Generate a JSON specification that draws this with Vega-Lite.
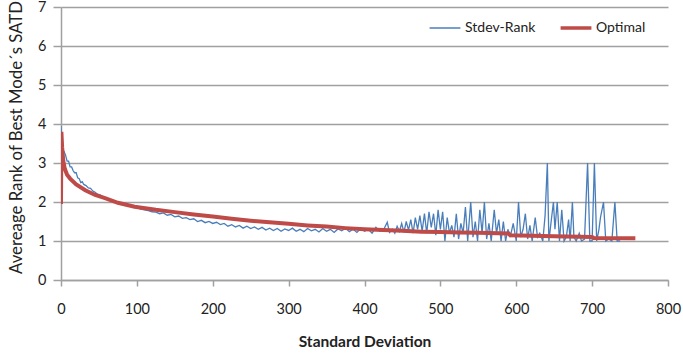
{
  "$schema": "https://vega.github.io/schema/vega-lite/v6.json",
  "width": 607,
  "height": 273,
  "autosize": {"type": "none"},
  "padding": {"left": 61, "top": 7, "right": 15, "bottom": 74},
  "background": "white",
  "config": {
    "view": {"stroke": null},
    "font": "Lato",
    "axis": {"labelFont": "Lato", "titleFont": "Lato", "labelColor": "#222", "titleColor": "#222", "domainColor": "#a0a0a0", "tickColor": "#a0a0a0", "gridColor": "#a0a0a0"}
  },
  "datasets": {
    "pts": [
      {"series":"Stdev-Rank","x":0,"y":3.95},{"series":"Stdev-Rank","x":1,"y":3.6},{"series":"Stdev-Rank","x":2,"y":3.3},{"series":"Stdev-Rank","x":4,"y":3.3},{"series":"Stdev-Rank","x":6,"y":3.2},{"series":"Stdev-Rank","x":8,"y":3.05},{"series":"Stdev-Rank","x":10,"y":3.05},{"series":"Stdev-Rank","x":12,"y":2.9},{"series":"Stdev-Rank","x":14,"y":2.9},{"series":"Stdev-Rank","x":16,"y":2.8},{"series":"Stdev-Rank","x":18,"y":2.75},{"series":"Stdev-Rank","x":20,"y":2.75},{"series":"Stdev-Rank","x":22,"y":2.62},{"series":"Stdev-Rank","x":24,"y":2.6},{"series":"Stdev-Rank","x":26,"y":2.5},{"series":"Stdev-Rank","x":28,"y":2.52},{"series":"Stdev-Rank","x":30,"y":2.45},{"series":"Stdev-Rank","x":33,"y":2.42},{"series":"Stdev-Rank","x":36,"y":2.36},{"series":"Stdev-Rank","x":39,"y":2.35},{"series":"Stdev-Rank","x":42,"y":2.28},{"series":"Stdev-Rank","x":45,"y":2.25},{"series":"Stdev-Rank","x":48,"y":2.2},{"series":"Stdev-Rank","x":52,"y":2.18},{"series":"Stdev-Rank","x":56,"y":2.12},{"series":"Stdev-Rank","x":60,"y":2.1},{"series":"Stdev-Rank","x":64,"y":2.05},{"series":"Stdev-Rank","x":68,"y":2.05},{"series":"Stdev-Rank","x":72,"y":2.0},{"series":"Stdev-Rank","x":76,"y":1.98},{"series":"Stdev-Rank","x":80,"y":1.95},{"series":"Stdev-Rank","x":85,"y":1.96},{"series":"Stdev-Rank","x":90,"y":1.9},{"series":"Stdev-Rank","x":95,"y":1.88},{"series":"Stdev-Rank","x":100,"y":1.86},{"series":"Stdev-Rank","x":105,"y":1.82},{"series":"Stdev-Rank","x":110,"y":1.8},{"series":"Stdev-Rank","x":115,"y":1.78},{"series":"Stdev-Rank","x":120,"y":1.75},{"series":"Stdev-Rank","x":125,"y":1.74},{"series":"Stdev-Rank","x":130,"y":1.7},{"series":"Stdev-Rank","x":135,"y":1.72},{"series":"Stdev-Rank","x":140,"y":1.66},{"series":"Stdev-Rank","x":145,"y":1.68},{"series":"Stdev-Rank","x":150,"y":1.62},{"series":"Stdev-Rank","x":155,"y":1.64},{"series":"Stdev-Rank","x":160,"y":1.58},{"series":"Stdev-Rank","x":165,"y":1.6},{"series":"Stdev-Rank","x":170,"y":1.55},{"series":"Stdev-Rank","x":175,"y":1.57},{"series":"Stdev-Rank","x":180,"y":1.5},{"series":"Stdev-Rank","x":185,"y":1.53},{"series":"Stdev-Rank","x":190,"y":1.47},{"series":"Stdev-Rank","x":195,"y":1.5},{"series":"Stdev-Rank","x":200,"y":1.45},{"series":"Stdev-Rank","x":205,"y":1.48},{"series":"Stdev-Rank","x":210,"y":1.42},{"series":"Stdev-Rank","x":215,"y":1.45},{"series":"Stdev-Rank","x":220,"y":1.38},{"series":"Stdev-Rank","x":225,"y":1.42},{"series":"Stdev-Rank","x":230,"y":1.36},{"series":"Stdev-Rank","x":235,"y":1.4},{"series":"Stdev-Rank","x":240,"y":1.33},{"series":"Stdev-Rank","x":245,"y":1.38},{"series":"Stdev-Rank","x":250,"y":1.32},{"series":"Stdev-Rank","x":255,"y":1.36},{"series":"Stdev-Rank","x":260,"y":1.3},{"series":"Stdev-Rank","x":265,"y":1.35},{"series":"Stdev-Rank","x":270,"y":1.28},{"series":"Stdev-Rank","x":275,"y":1.33},{"series":"Stdev-Rank","x":280,"y":1.27},{"series":"Stdev-Rank","x":285,"y":1.32},{"series":"Stdev-Rank","x":290,"y":1.25},{"series":"Stdev-Rank","x":295,"y":1.31},{"series":"Stdev-Rank","x":300,"y":1.27},{"series":"Stdev-Rank","x":305,"y":1.33},{"series":"Stdev-Rank","x":310,"y":1.25},{"series":"Stdev-Rank","x":315,"y":1.3},{"series":"Stdev-Rank","x":320,"y":1.24},{"series":"Stdev-Rank","x":325,"y":1.32},{"series":"Stdev-Rank","x":330,"y":1.26},{"series":"Stdev-Rank","x":335,"y":1.3},{"series":"Stdev-Rank","x":340,"y":1.23},{"series":"Stdev-Rank","x":345,"y":1.32},{"series":"Stdev-Rank","x":350,"y":1.25},{"series":"Stdev-Rank","x":355,"y":1.3},{"series":"Stdev-Rank","x":360,"y":1.22},{"series":"Stdev-Rank","x":365,"y":1.31},{"series":"Stdev-Rank","x":370,"y":1.26},{"series":"Stdev-Rank","x":375,"y":1.33},{"series":"Stdev-Rank","x":380,"y":1.24},{"series":"Stdev-Rank","x":385,"y":1.3},{"series":"Stdev-Rank","x":390,"y":1.22},{"series":"Stdev-Rank","x":395,"y":1.32},{"series":"Stdev-Rank","x":400,"y":1.25},{"series":"Stdev-Rank","x":405,"y":1.3},{"series":"Stdev-Rank","x":410,"y":1.2},{"series":"Stdev-Rank","x":415,"y":1.35},{"series":"Stdev-Rank","x":420,"y":1.25},{"series":"Stdev-Rank","x":425,"y":1.28},{"series":"Stdev-Rank","x":430,"y":1.48},{"series":"Stdev-Rank","x":433,"y":1.22},{"series":"Stdev-Rank","x":437,"y":1.3},{"series":"Stdev-Rank","x":440,"y":1.2},{"series":"Stdev-Rank","x":443,"y":1.38},{"series":"Stdev-Rank","x":446,"y":1.25},{"series":"Stdev-Rank","x":449,"y":1.45},{"series":"Stdev-Rank","x":452,"y":1.22},{"series":"Stdev-Rank","x":455,"y":1.5},{"series":"Stdev-Rank","x":458,"y":1.28},{"series":"Stdev-Rank","x":461,"y":1.55},{"series":"Stdev-Rank","x":464,"y":1.2},{"series":"Stdev-Rank","x":467,"y":1.6},{"series":"Stdev-Rank","x":470,"y":1.3},{"series":"Stdev-Rank","x":473,"y":1.65},{"series":"Stdev-Rank","x":476,"y":1.25},{"series":"Stdev-Rank","x":479,"y":1.7},{"series":"Stdev-Rank","x":482,"y":1.2},{"series":"Stdev-Rank","x":485,"y":1.75},{"series":"Stdev-Rank","x":488,"y":1.35},{"series":"Stdev-Rank","x":491,"y":1.7},{"series":"Stdev-Rank","x":494,"y":1.15},{"series":"Stdev-Rank","x":497,"y":1.8},{"series":"Stdev-Rank","x":500,"y":1.3},{"series":"Stdev-Rank","x":503,"y":1.75},{"series":"Stdev-Rank","x":506,"y":1.0},{"series":"Stdev-Rank","x":509,"y":1.6},{"series":"Stdev-Rank","x":512,"y":1.2},{"series":"Stdev-Rank","x":515,"y":1.4},{"series":"Stdev-Rank","x":518,"y":1.1},{"series":"Stdev-Rank","x":521,"y":1.7},{"series":"Stdev-Rank","x":524,"y":1.05},{"series":"Stdev-Rank","x":527,"y":1.45},{"series":"Stdev-Rank","x":530,"y":1.2},{"series":"Stdev-Rank","x":533,"y":1.87},{"series":"Stdev-Rank","x":536,"y":1.0},{"series":"Stdev-Rank","x":540,"y":2.0},{"series":"Stdev-Rank","x":543,"y":1.1},{"series":"Stdev-Rank","x":546,"y":1.5},{"series":"Stdev-Rank","x":549,"y":1.0},{"series":"Stdev-Rank","x":552,"y":1.8},{"series":"Stdev-Rank","x":555,"y":1.2},{"series":"Stdev-Rank","x":558,"y":2.0},{"series":"Stdev-Rank","x":561,"y":1.05},{"series":"Stdev-Rank","x":564,"y":1.45},{"series":"Stdev-Rank","x":567,"y":1.0},{"series":"Stdev-Rank","x":571,"y":1.8},{"series":"Stdev-Rank","x":574,"y":1.2},{"series":"Stdev-Rank","x":577,"y":1.55},{"series":"Stdev-Rank","x":580,"y":1.0},{"series":"Stdev-Rank","x":583,"y":1.5},{"series":"Stdev-Rank","x":586,"y":1.0},{"series":"Stdev-Rank","x":589,"y":1.3},{"series":"Stdev-Rank","x":592,"y":1.1},{"series":"Stdev-Rank","x":596,"y":1.45},{"series":"Stdev-Rank","x":600,"y":1.0},{"series":"Stdev-Rank","x":603,"y":2.0},{"series":"Stdev-Rank","x":606,"y":1.1},{"series":"Stdev-Rank","x":609,"y":1.3},{"series":"Stdev-Rank","x":612,"y":1.7},{"series":"Stdev-Rank","x":615,"y":1.05},{"series":"Stdev-Rank","x":618,"y":1.4},{"series":"Stdev-Rank","x":621,"y":1.0},{"series":"Stdev-Rank","x":625,"y":1.6},{"series":"Stdev-Rank","x":628,"y":1.1},{"series":"Stdev-Rank","x":631,"y":1.2},{"series":"Stdev-Rank","x":635,"y":1.0},{"series":"Stdev-Rank","x":638,"y":1.65},{"series":"Stdev-Rank","x":641,"y":3.0},{"series":"Stdev-Rank","x":643,"y":1.0},{"series":"Stdev-Rank","x":646,"y":1.5},{"series":"Stdev-Rank","x":649,"y":2.0},{"series":"Stdev-Rank","x":651,"y":1.3},{"series":"Stdev-Rank","x":654,"y":2.0},{"series":"Stdev-Rank","x":657,"y":1.0},{"series":"Stdev-Rank","x":660,"y":1.8},{"series":"Stdev-Rank","x":663,"y":1.0},{"series":"Stdev-Rank","x":666,"y":1.1},{"series":"Stdev-Rank","x":669,"y":1.55},{"series":"Stdev-Rank","x":671,"y":1.0},{"series":"Stdev-Rank","x":674,"y":2.0},{"series":"Stdev-Rank","x":676,"y":1.1},{"series":"Stdev-Rank","x":679,"y":1.0},{"series":"Stdev-Rank","x":683,"y":1.2},{"series":"Stdev-Rank","x":686,"y":1.0},{"series":"Stdev-Rank","x":690,"y":1.05},{"series":"Stdev-Rank","x":694,"y":3.0},{"series":"Stdev-Rank","x":697,"y":1.0},{"series":"Stdev-Rank","x":700,"y":1.0},{"series":"Stdev-Rank","x":703,"y":3.0},{"series":"Stdev-Rank","x":706,"y":1.0},{"series":"Stdev-Rank","x":709,"y":1.3},{"series":"Stdev-Rank","x":711,"y":1.6},{"series":"Stdev-Rank","x":715,"y":2.0},{"series":"Stdev-Rank","x":718,"y":1.0},{"series":"Stdev-Rank","x":722,"y":1.05},{"series":"Stdev-Rank","x":726,"y":1.0},{"series":"Stdev-Rank","x":730,"y":2.0},{"series":"Stdev-Rank","x":733,"y":1.0},{"series":"Stdev-Rank","x":737,"y":1.0},
      {"series":"Optimal","x":0,"y":1.95},{"series":"Optimal","x":0.5,"y":3.8},{"series":"Optimal","x":1.5,"y":3.4},{"series":"Optimal","x":3,"y":3.05},{"series":"Optimal","x":5,"y":2.85},{"series":"Optimal","x":8,"y":2.7},{"series":"Optimal","x":12,"y":2.6},{"series":"Optimal","x":20,"y":2.45},{"series":"Optimal","x":32,"y":2.3},{"series":"Optimal","x":45,"y":2.18},{"series":"Optimal","x":58,"y":2.1},{"series":"Optimal","x":75,"y":1.98},{"series":"Optimal","x":97,"y":1.88},{"series":"Optimal","x":125,"y":1.8},{"series":"Optimal","x":150,"y":1.74},{"series":"Optimal","x":175,"y":1.68},{"series":"Optimal","x":200,"y":1.63},{"series":"Optimal","x":225,"y":1.57},{"series":"Optimal","x":250,"y":1.52},{"series":"Optimal","x":275,"y":1.48},{"series":"Optimal","x":300,"y":1.44},{"series":"Optimal","x":325,"y":1.4},{"series":"Optimal","x":350,"y":1.37},{"series":"Optimal","x":375,"y":1.33},{"series":"Optimal","x":400,"y":1.3},{"series":"Optimal","x":425,"y":1.28},{"series":"Optimal","x":450,"y":1.26},{"series":"Optimal","x":475,"y":1.24},{"series":"Optimal","x":500,"y":1.23},{"series":"Optimal","x":525,"y":1.22},{"series":"Optimal","x":550,"y":1.21},{"series":"Optimal","x":590,"y":1.19},{"series":"Optimal","x":592,"y":1.15},{"series":"Optimal","x":650,"y":1.12},{"series":"Optimal","x":700,"y":1.1},{"series":"Optimal","x":702,"y":1.08},{"series":"Optimal","x":757,"y":1.07}
    ]
  },
  "data": {"name": "pts"},
  "encoding": {
    "x": {"field": "x", "type": "quantitative", "scale": {"domain": [0, 800], "nice": false},
      "axis": {"title": "Standard Deviation", "values": [0,100,200,300,400,500,600,700,800], "grid": false, "labelFlush": false, "tickSize": 6, "labelPadding": 16, "labelFontSize": 14.5, "titleFontSize": 15.5, "titleFontWeight": "bold", "titlePadding": 19, "domainWidth": 1.5, "tickWidth": 1.5}},
    "y": {"field": "y", "type": "quantitative", "scale": {"domain": [0, 7], "nice": false},
      "axis": {"title": "Avereage Rank  of Best Mode´s SATD", "values": [0,1,2,3,4,5,6,7], "grid": true, "gridWidth": 1.6, "tickSize": 8, "labelPadding": 7, "labelFontSize": 14.5, "titleFontSize": 16.8, "titleFontWeight": "normal", "titlePadding": 12, "titleY": 130, "domainWidth": 1.5, "tickWidth": 1.5}},
    "color": {"field": "series", "type": "nominal",
      "scale": {"domain": ["Stdev-Rank", "Optimal"], "range": ["#4a7ebb", "#be4b48"]},
      "legend": {"title": null, "orient": "none", "legendX": 377, "legendY": 14, "direction": "horizontal", "symbolType": "stroke", "symbolSize": 950, "labelFontSize": 14, "labelFont": "Lato", "labelColor": "#222", "labelOffset": 13, "columnPadding": 17, "padding": 0,
        "encode": {"symbols": {"update": {"strokeWidth": {"signal": "datum.value === 'Optimal' ? 3.5 : 1.5"}}}}}
    }
  },
  "layer": [
    {"transform": [{"filter": "datum.series === 'Stdev-Rank'"}], "mark": {"type": "line", "strokeWidth": 1.3, "clip": true}},
    {"transform": [{"filter": "datum.series === 'Optimal'"}], "mark": {"type": "line", "strokeWidth": 4, "clip": true}}
  ]
}
